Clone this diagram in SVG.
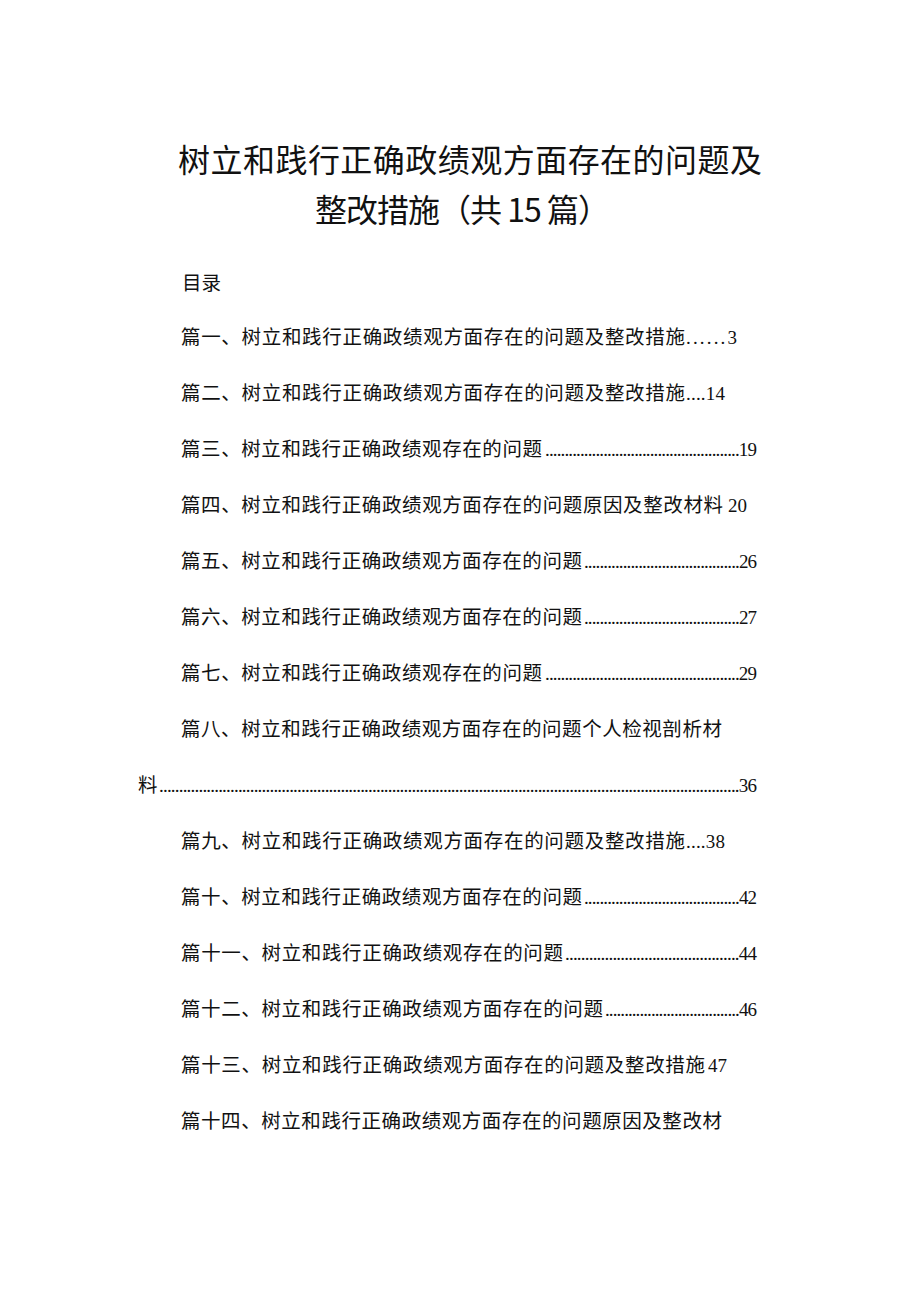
<svg xmlns="http://www.w3.org/2000/svg" width="920" height="1301" viewBox="0 0 920 1301">
<style>
.t{font-family:"Noto Sans CJK SC","Noto Sans",sans-serif;font-size:32px;fill:#111}
.c{font-family:"Noto Sans CJK SC",sans-serif;font-size:19.5px;fill:#111}
.s{font-family:"Liberation Serif",serif;font-size:19px;fill:#111}
</style>
<rect width="920" height="1301" fill="#fff"/>
<text class="t" x="178" y="172" textLength="584">树立和践行正确政绩观方面存在的问题及</text>
<text class="t" x="315" y="222" textLength="295" lengthAdjust="spacing">整改措施（共 15 篇）</text>
<text class="c" x="182" y="290" font-size="18">目录</text>
<g>
<text class="c" x="181" y="344" textLength="504">篇一、树立和践行正确政绩观方面存在的问题及整改措施</text><text class="s" x="686" y="344" textLength="51" lengthAdjust="spacing">......3</text>
<text class="c" x="181" y="400" textLength="504">篇二、树立和践行正确政绩观方面存在的问题及整改措施</text><text class="s" x="686" y="400" textLength="39" lengthAdjust="spacing">....14</text>
<text class="c" x="181" y="456" textLength="361">篇三、树立和践行正确政绩观存在的问题</text><text class="s" x="545" y="456" textLength="212" lengthAdjust="spacing">..................................................19</text>
<text class="c" x="181" y="512" textLength="542">篇四、树立和践行正确政绩观方面存在的问题原因及整改材料</text><text class="s" x="728" y="512">20</text>
<text class="c" x="181" y="568" textLength="401">篇五、树立和践行正确政绩观方面存在的问题</text><text class="s" x="584" y="568" textLength="173" lengthAdjust="spacing">........................................26</text>
<text class="c" x="181" y="624" textLength="401">篇六、树立和践行正确政绩观方面存在的问题</text><text class="s" x="584" y="624" textLength="173" lengthAdjust="spacing">........................................27</text>
<text class="c" x="181" y="680" textLength="361">篇七、树立和践行正确政绩观存在的问题</text><text class="s" x="545" y="680" textLength="212" lengthAdjust="spacing">..................................................29</text>
<text class="c" x="181" y="736" textLength="541">篇八、树立和践行正确政绩观方面存在的问题个人检视剖析材</text>
<text class="c" x="138" y="792">料</text><text class="s" x="159" y="792" textLength="598" lengthAdjust="spacing">...................................................................................................................................................36</text>
<text class="c" x="181" y="848" textLength="504">篇九、树立和践行正确政绩观方面存在的问题及整改措施</text><text class="s" x="686" y="848" textLength="39" lengthAdjust="spacing">....38</text>
<text class="c" x="181" y="904" textLength="401">篇十、树立和践行正确政绩观方面存在的问题</text><text class="s" x="584" y="904" textLength="173" lengthAdjust="spacing">........................................42</text>
<text class="c" x="181" y="960" textLength="382">篇十一、树立和践行正确政绩观存在的问题</text><text class="s" x="565" y="960" textLength="192" lengthAdjust="spacing">............................................44</text>
<text class="c" x="181" y="1016" textLength="422">篇十二、树立和践行正确政绩观方面存在的问题</text><text class="s" x="605" y="1016" textLength="152" lengthAdjust="spacing">...................................46</text>
<text class="c" x="181" y="1072" textLength="524">篇十三、树立和践行正确政绩观方面存在的问题及整改措施</text><text class="s" x="708" y="1072">47</text>
<text class="c" x="181" y="1128" textLength="541">篇十四、树立和践行正确政绩观方面存在的问题原因及整改材</text>
</g>
</svg>
